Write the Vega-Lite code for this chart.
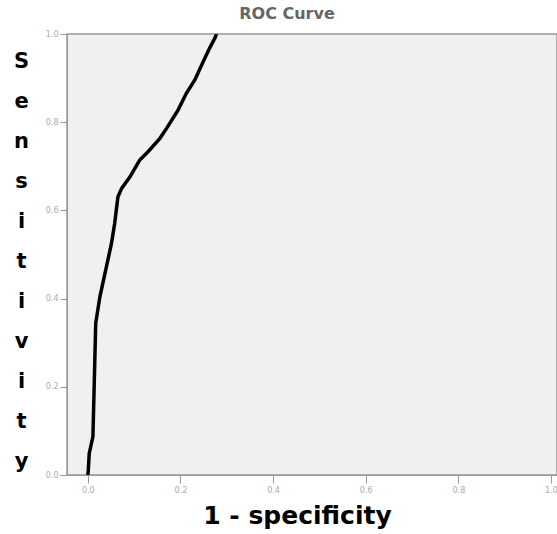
{
  "$schema": "https://vega.github.io/schema/vega-lite/v6.json",
  "autosize": "none",
  "padding": {"left": 67, "top": 34, "right": 0, "bottom": 59},
  "width": 490,
  "height": 441,
  "background": "white",
  "title": {"text": "ROC Curve", "font": "DejaVu Sans", "fontSize": 16, "fontWeight": "bold", "color": "#666666", "dx": -25, "offset": 8, "anchor": "middle"},
  "config": {
    "view": {"fill": "#f0f0f0", "stroke": "#999999", "strokeWidth": 1.5},
    "axis": {"grid": false, "domainColor": "#999999", "tickColor": "#999999", "labelColor": "#aaaaaa", "labelFontSize": 8, "labelFont": "DejaVu Sans"}
  },
  "data": {"values": [
    {"o": 0, "fpr": 0.0, "tpr": 0.0},
    {"o": 1, "fpr": 0.001, "tpr": 0.011},
    {"o": 2, "fpr": 0.003, "tpr": 0.049},
    {"o": 3, "fpr": 0.011, "tpr": 0.087},
    {"o": 4, "fpr": 0.014, "tpr": 0.215},
    {"o": 5, "fpr": 0.017, "tpr": 0.344},
    {"o": 6, "fpr": 0.026, "tpr": 0.404},
    {"o": 7, "fpr": 0.037, "tpr": 0.457},
    {"o": 8, "fpr": 0.051, "tpr": 0.525},
    {"o": 9, "fpr": 0.058, "tpr": 0.571},
    {"o": 10, "fpr": 0.065, "tpr": 0.631},
    {"o": 11, "fpr": 0.073, "tpr": 0.65},
    {"o": 12, "fpr": 0.091, "tpr": 0.676},
    {"o": 13, "fpr": 0.112, "tpr": 0.714},
    {"o": 14, "fpr": 0.13, "tpr": 0.733},
    {"o": 15, "fpr": 0.156, "tpr": 0.764},
    {"o": 16, "fpr": 0.17, "tpr": 0.786},
    {"o": 17, "fpr": 0.195, "tpr": 0.828},
    {"o": 18, "fpr": 0.213, "tpr": 0.866},
    {"o": 19, "fpr": 0.231, "tpr": 0.896},
    {"o": 20, "fpr": 0.249, "tpr": 0.937},
    {"o": 21, "fpr": 0.263, "tpr": 0.968},
    {"o": 22, "fpr": 0.274, "tpr": 0.99},
    {"o": 23, "fpr": 0.278, "tpr": 1.0}
  ]},
  "mark": {"type": "line", "color": "black", "strokeWidth": 3.5, "clip": true},
  "encoding": {
    "order": {"field": "o", "type": "quantitative"},
    "x": {"field": "fpr", "type": "quantitative",
      "scale": {"domain": [-0.045, 1.013], "nice": false, "zero": false},
      "axis": {"values": [0, 0.2, 0.4, 0.6, 0.8, 1.0], "format": ".1f", "tickSize": 8, "labelPadding": 3,
        "title": "1 - specificity", "titleFont": "DejaVu Sans", "titleFontSize": 25, "titleFontWeight": "bold", "titleColor": "black",
        "titleX": 230, "titleY": 48, "titleAlign": "center", "titleBaseline": "alphabetic", "titleAnchor": null}},
    "y": {"field": "tpr", "type": "quantitative",
      "scale": {"domain": [0, 1], "nice": false},
      "axis": {"values": [0, 0.2, 0.4, 0.6, 0.8, 1.0], "format": ".1f", "tickSize": 7, "labelPadding": 2,
        "title": ["S", "e", "n", "s", "i", "t", "i", "v", "i", "t", "y"],
        "titleFont": "DejaVu Sans", "titleFontSize": 21, "titleFontWeight": "bold", "titleColor": "black",
        "titleAngle": 0, "titleLineHeight": 40, "titleX": -46, "titleY": 16, "titleAlign": "center", "titleBaseline": "top"}}
  }
}
